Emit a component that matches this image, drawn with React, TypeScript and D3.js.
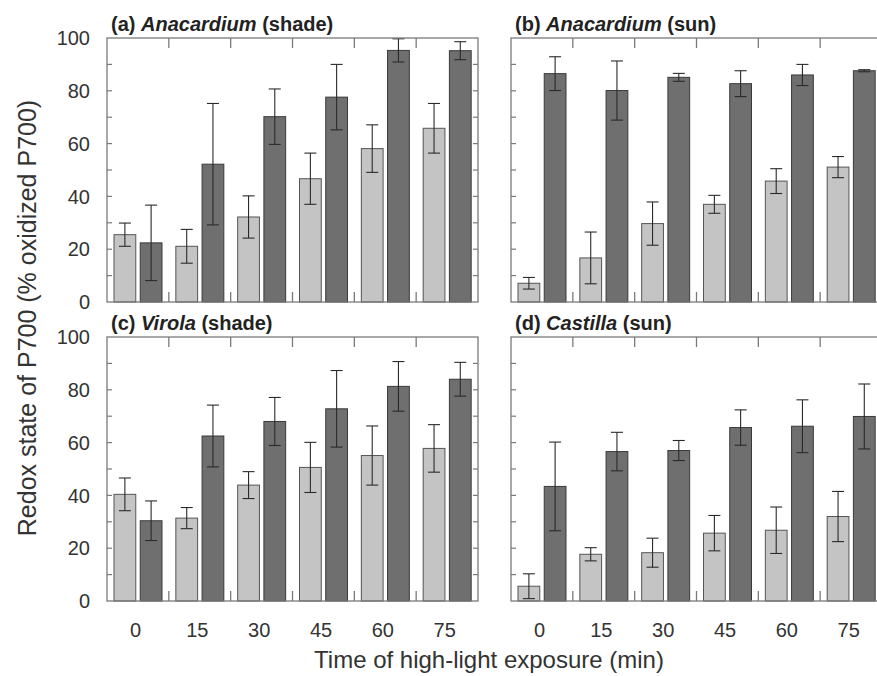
import { useEffect, useRef } from "react";
import * as d3 from "d3";

// exposure times (min)
const times = ["0", "15", "30", "45", "60", "75"];
const series = ["light", "dark"];

// (a) Anacardium shade
const aLight = [25.5, 21.1, 32.2, 46.7, 58.1, 65.8];
const aLightErr = [4.4, 6.4, 8.0, 9.7, 9.0, 9.4];
const aDark = [22.4, 52.2, 70.2, 77.6, 95.3, 95.2];
const aDarkErr = [14.3, 23.0, 10.5, 12.4, 4.4, 3.4];

// (b) Anacardium sun
const bLight = [7.1, 16.7, 29.7, 37.0, 45.8, 51.1];
const bLightErr = [2.2, 9.8, 8.2, 3.4, 4.7, 4.0];
const bDark = [86.5, 80.1, 85.1, 82.7, 86.0, 87.6];
const bDarkErr = [6.4, 11.2, 1.5, 4.9, 4.0, 0.4];

// (c) Virola shade
const cLight = [40.4, 31.4, 43.9, 50.6, 55.1, 57.8];
const cLightErr = [6.2, 4.0, 5.1, 9.5, 11.2, 9.0];
const cDark = [30.4, 62.5, 68.0, 72.8, 81.3, 84.0];
const cDarkErr = [7.5, 11.7, 9.1, 14.5, 9.4, 6.4];

// (d) Castilla sun
const dLight = [5.6, 17.7, 18.3, 25.7, 26.8, 32.0];
const dLightErr = [4.7, 2.5, 5.5, 6.7, 8.8, 9.5];
const dDark = [43.4, 56.6, 57.0, 65.7, 66.2, 69.9];
const dDarkErr = [16.8, 7.3, 3.8, 6.7, 10.0, 12.3];

const yTicks = [0, 20, 40, 60, 80, 100];

const panels = [
  { tag: "(a) ", genus: "Anacardium", cond: " (shade)", x: 107, y: 38, light: aLight, lightErr: aLightErr, dark: aDark, darkErr: aDarkErr, yLabels: true, xLabels: false },
  { tag: "(b) ", genus: "Anacardium", cond: " (sun)", x: 511, y: 38, light: bLight, lightErr: bLightErr, dark: bDark, darkErr: bDarkErr, yLabels: false, xLabels: false },
  { tag: "(c) ", genus: "Virola", cond: " (shade)", x: 107, y: 337, light: cLight, lightErr: cLightErr, dark: cDark, darkErr: cDarkErr, yLabels: true, xLabels: true },
  { tag: "(d) ", genus: "Castilla", cond: " (sun)", x: 511, y: 337, light: dLight, lightErr: dLightErr, dark: dDark, darkErr: dDarkErr, yLabels: false, xLabels: true },
];

const W = 371;
const H = 264;
const FONT = "'Liberation Sans', Arial, sans-serif";

export default function App() {
  const ref = useRef<SVGSVGElement>(null);

  useEffect(() => {
    const svg = d3.select(ref.current);
    svg.selectAll("*").remove();

    const yScale = d3.scaleLinear().domain([0, 100]).range([H, 0]);
    const xScale = d3.scaleBand().domain(times).range([0, W]);
    const sub = d3.scaleBand().domain(series).range([7, 55]).paddingInner(0.17);
    const fills: Record<string, string> = { light: "#c4c4c4", dark: "#6f6f6f" };
    const strokes: Record<string, string> = { light: "#555", dark: "#3a3a3a" };

    panels.forEach((p) => {
      const g = svg.append("g").attr("transform", `translate(${p.x},${p.y})`);

      // title
      const t = g.append("text").attr("x", 4).attr("y", -7)
        .attr("font-family", FONT).attr("font-size", 20).attr("font-weight", "bold").attr("fill", "#222");
      t.append("tspan").text(p.tag);
      t.append("tspan").attr("font-style", "italic").text(p.genus);
      t.append("tspan").text(p.cond);

      const rows = times.map((tm, i) => ({
        t: tm,
        vals: [
          { k: "light", v: p.light[i], e: p.lightErr[i] },
          { k: "dark", v: p.dark[i], e: p.darkErr[i] },
        ],
      }));

      const grp = g.selectAll("g.grp").data(rows).enter().append("g")
        .attr("transform", (d) => `translate(${xScale(d.t)},0)`);

      const bar = grp.selectAll("g.bar").data((d) => d.vals).enter().append("g");
      bar.append("rect")
        .attr("x", (d) => sub(d.k)!)
        .attr("y", (d) => yScale(d.v))
        .attr("width", sub.bandwidth())
        .attr("height", (d) => H - yScale(d.v))
        .attr("fill", (d) => fills[d.k])
        .attr("stroke", (d) => strokes[d.k])
        .attr("stroke-width", 1);

      const cx = (d: any) => sub(d.k)! + sub.bandwidth() / 2;
      bar.append("line")
        .attr("x1", cx).attr("x2", cx)
        .attr("y1", (d) => yScale(Math.min(100, d.v + d.e)))
        .attr("y2", (d) => yScale(Math.max(0, d.v - d.e)))
        .attr("stroke", "#2a2a2a").attr("stroke-width", 1.1);
      [1, -1].forEach((s) => {
        bar.append("line")
          .attr("x1", (d) => cx(d) - 6).attr("x2", (d) => cx(d) + 6)
          .attr("y1", (d) => yScale(Math.max(0, Math.min(100, d.v + s * d.e))))
          .attr("y2", (d) => yScale(Math.max(0, Math.min(100, d.v + s * d.e))))
          .attr("stroke", "#2a2a2a").attr("stroke-width", 1.1);
      });

      // frame
      g.append("rect").attr("width", W).attr("height", H)
        .attr("fill", "none").attr("stroke", "#7a7a7a").attr("stroke-width", 1.3);

      // y ticks every 10, inward on both sides
      const minor = d3.range(10, 100, 10);
      minor.forEach((v) => {
        g.append("line").attr("x1", 0).attr("x2", 5).attr("y1", yScale(v)).attr("y2", yScale(v))
          .attr("stroke", "#7a7a7a").attr("stroke-width", 1.2);
        g.append("line").attr("x1", W).attr("x2", W - 5).attr("y1", yScale(v)).attr("y2", yScale(v))
          .attr("stroke", "#7a7a7a").attr("stroke-width", 1.2);
      });

      // group boundary ticks on top and bottom
      times.slice(1).forEach((tm) => {
        const bx = xScale(tm)!;
        g.append("line").attr("x1", bx).attr("x2", bx).attr("y1", 0).attr("y2", 10)
          .attr("stroke", "#7a7a7a").attr("stroke-width", 1.3);
        g.append("line").attr("x1", bx).attr("x2", bx).attr("y1", H).attr("y2", H - 10)
          .attr("stroke", "#7a7a7a").attr("stroke-width", 1.3);
      });

      if (p.yLabels) {
        g.selectAll("text.yt").data(yTicks).enter().append("text")
          .attr("x", -17).attr("y", (d) => yScale(d)).attr("dy", "0.36em")
          .attr("text-anchor", "end").attr("font-family", FONT).attr("font-size", 20).attr("fill", "#333")
          .text((d) => d);
      }
      if (p.xLabels) {
        g.selectAll("text.xt").data(times).enter().append("text")
          .attr("x", (d) => xScale(d)! + 28.5).attr("y", H + 36)
          .attr("text-anchor", "middle").attr("font-family", FONT).attr("font-size", 20).attr("fill", "#333")
          .text((d) => d);
      }
    });

    svg.append("text")
      .attr("transform", "translate(36,318) rotate(-90)")
      .attr("text-anchor", "middle").attr("font-family", FONT).attr("font-size", 25).attr("fill", "#333")
      .text("Redox state of P700 (% oxidized P700)");

    svg.append("text")
      .attr("x", 489).attr("y", 668)
      .attr("text-anchor", "middle").attr("font-family", FONT).attr("font-size", 24).attr("fill", "#333")
      .text("Time of high-light exposure (min)");
  }, []);

  return (
    <svg ref={ref} width={877} height={676}
      style={{ position: "absolute", left: 0, top: 0, background: "#fff" }} />
  );
}
